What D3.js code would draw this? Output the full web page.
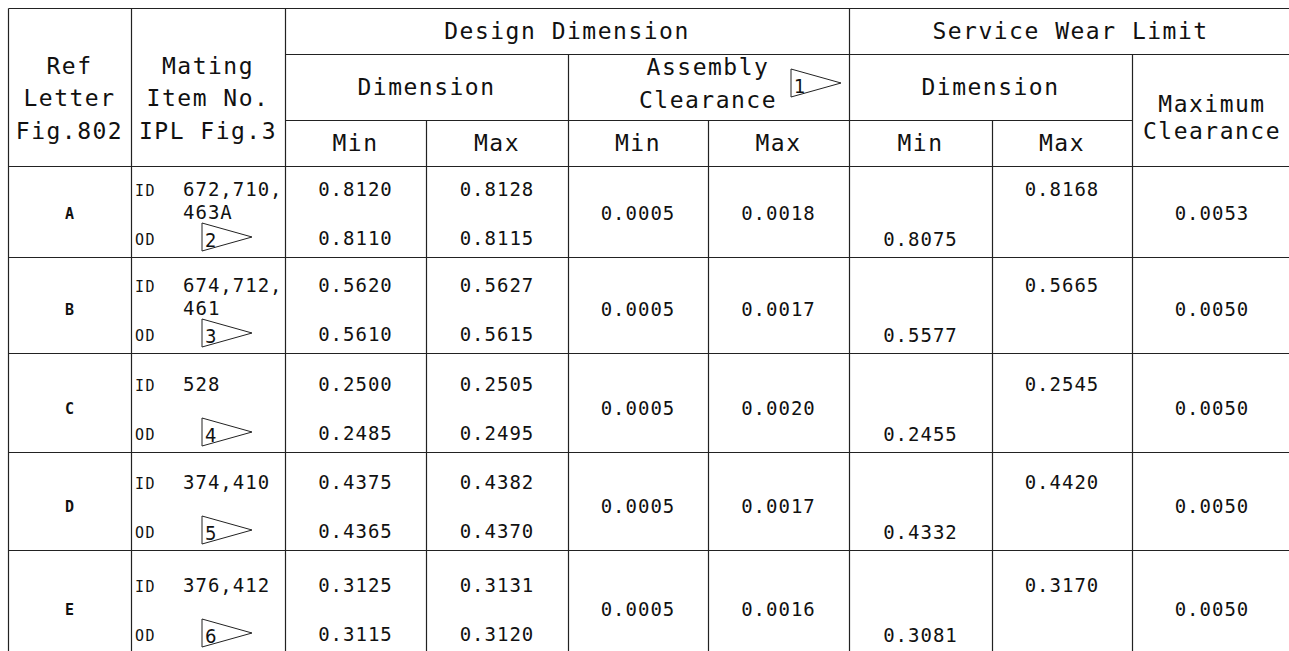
<!DOCTYPE html>
<html>
<head>
<meta charset="utf-8">
<script src="https://cdn.jsdelivr.net/npm/d3@7"></script>
<style>
  html, body { margin: 0; padding: 0; background: #fff; overflow: hidden; }
  svg { display: block; }
  text { font-family: "DejaVu Sans Mono", monospace; fill: #111; }
</style>
</head>
<body>
<div id="sheet"></div>
<script>
// table values
var refLetters = ["A", "B", "C", "D", "E"];
var itemNos = [["672,710,", "463A"], ["674,712,", "461"], ["528"], ["374,410"], ["376,412"]];
var noteNums = ["2", "3", "4", "5", "6"];
var idMin = [0.8120, 0.5620, 0.2500, 0.4375, 0.3125];
var idMax = [0.8128, 0.5627, 0.2505, 0.4382, 0.3131];
var odMin = [0.8110, 0.5610, 0.2485, 0.4365, 0.3115];
var odMax = [0.8115, 0.5615, 0.2495, 0.4370, 0.3120];
var clearMin = [0.0005, 0.0005, 0.0005, 0.0005, 0.0005];
var clearMax = [0.0018, 0.0017, 0.0020, 0.0017, 0.0016];
var wearMin = [0.8075, 0.5577, 0.2455, 0.4332, 0.3081];
var wearMax = [0.8168, 0.5665, 0.2545, 0.4420, 0.3170];
var maxClear = [0.0053, 0.0050, 0.0050, 0.0050, 0.0050];

var width = 1289, height = 651;
var fmt = d3.format(".4f");

// grid layout
var colX = [8, 131, 285, 426, 568, 708, 849, 992, 1132, 1292];
var rowY = [166, 257, 353, 452, 550, 653];

var svg = d3.select("#sheet").append("svg")
    .attr("width", width).attr("height", height);

var row = d3.scaleOrdinal().domain(refLetters).range(d3.range(refLetters.length));
var odBase = function(i){ return rowY[i + 1] - 12; };
var idBase = function(i){ return odBase(i) - 49; };
var midBase = function(i){ return (idBase(i) + odBase(i)) / 2 - 1; };
var colMid = function(c){ return (colX[c] + colX[c + 1]) / 2; };

// rules
var lines = [
  [8, 8, 1292, 8], [8, 8, 8, 653],
  [131, 8, 131, 653], [285, 8, 285, 653], [849, 8, 849, 653],
  [285, 54, 1292, 54],
  [568, 54, 568, 653], [1132, 54, 1132, 653],
  [285, 120, 1132, 120],
  [426, 120, 426, 653], [708, 120, 708, 653], [992, 120, 992, 653],
  [8, 166, 1292, 166]
];
rowY.slice(1, -1).forEach(function(y){ lines.push([8, y, 1292, y]); });

svg.append("g").selectAll("line")
    .data(lines)
    .enter().append("line")
    .attr("x1", d => d[0] + 0.5).attr("y1", d => d[1] + 0.5)
    .attr("x2", d => d[2] + 0.5).attr("y2", d => d[3] + 0.5)
    .attr("stroke", "#222")
    .attr("stroke-width", 1.2);

// header
var hdr = svg.append("g")
    .style("font-size", "23px")
    .style("letter-spacing", "1.5px")
    .attr("text-anchor", "middle");

var headers = [
  ["Design Dimension", (285 + 849) / 2, 39],
  ["Service Wear Limit", (849 + 1292) / 2, 39],
  ["Dimension", (285 + 568) / 2, 95],
  ["Dimension", (849 + 1132) / 2, 95],
  ["Assembly", 708, 75],
  ["Clearance", 708, 108],
  ["Maximum", colMid(8), 112],
  ["Clearance", colMid(8), 139],
  ["Ref", colMid(0), 74],
  ["Letter", colMid(0), 106],
  ["Fig.802", colMid(0), 139],
  ["Mating", colMid(1), 74],
  ["Item No.", colMid(1), 106],
  ["IPL Fig.3", colMid(1), 139]
];
["Min", "Max", "Min", "Max", "Min", "Max"].forEach(function(t, k){
  headers.push([t, colMid(k + 2), 151]);
});

hdr.selectAll("text")
    .data(headers)
    .enter().append("text")
    .attr("x", d => d[1])
    .attr("y", d => d[2])
    .text(d => d[0]);

// flag note triangle
function flag(g, x, y, n){
  g.append("path")
    .attr("d", "M" + x + "," + y + "V" + (y + 28) + "L" + (x + 50) + "," + (y + 14) + "Z")
    .attr("fill", "none")
    .attr("stroke", "#222")
    .attr("stroke-width", 1);
  g.append("text")
    .attr("x", x + 3).attr("y", y + 24)
    .style("font-family", "'DejaVu Sans', sans-serif")
    .style("font-stretch", "condensed")
    .style("font-size", "20px")
    .text(n);
}

flag(svg.append("g"), 791, 69, "1");

// body
var body = svg.append("g");

var cells = body.selectAll("g.row")
    .data(refLetters)
    .enter().append("g")
    .attr("class", "row");

cells.append("text")
    .attr("x", colMid(0))
    .attr("y", d => midBase(row(d)) - 1)
    .attr("text-anchor", "middle")
    .style("font-size", "15px")
    .style("font-weight", "bold")
    .text(d => d);

cells.append("text")
    .attr("x", 135).attr("y", d => idBase(row(d)))
    .style("font-size", "15px").style("letter-spacing", "1.5px")
    .text("ID");
cells.append("text")
    .attr("x", 135).attr("y", d => odBase(row(d)))
    .style("font-size", "15px").style("letter-spacing", "1.5px")
    .text("OD");

cells.each(function(d){
  var i = row(d), g = d3.select(this);
  itemNos[i].forEach(function(t, k){
    g.append("text")
      .attr("x", 183).attr("y", idBase(i) + k * 23)
      .style("font-size", "19px").style("letter-spacing", "1px")
      .text(t);
  });
  flag(g, 202, odBase(i) - 22, noteNums[i]);
});

var numCols = [
  [idMin, 2, idBase], [odMin, 2, odBase],
  [idMax, 3, idBase], [odMax, 3, odBase],
  [clearMin, 4, midBase], [clearMax, 5, midBase],
  [wearMin, 6, function(i){ return odBase(i) + 1; }],
  [wearMax, 7, idBase],
  [maxClear, 8, midBase]
];

numCols.forEach(function(c){
  body.append("g").selectAll("text")
    .data(c[0])
    .enter().append("text")
    .attr("x", colMid(c[1]))
    .attr("y", (v, i) => c[2](i))
    .attr("text-anchor", "middle")
    .style("font-size", "19px")
    .style("letter-spacing", "1px")
    .text(v => fmt(v));
});
</script>
</body>
</html>
